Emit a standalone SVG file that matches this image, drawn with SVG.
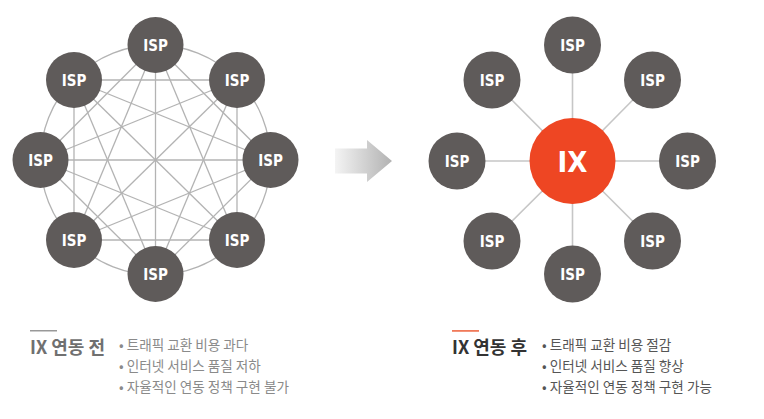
<svg xmlns="http://www.w3.org/2000/svg" width="764" height="419" viewBox="0 0 764 419">
<style>
.isp{fill:#5f5b5a}
.lbl{fill:#fff;font-family:"DejaVu Sans Condensed","DejaVu Sans","Liberation Sans",sans-serif;font-stretch:condensed;font-weight:bold;font-size:15px;text-anchor:middle}
.mesh{stroke:#b3b3b3;stroke-width:1.3;fill:none}
.spoke{stroke:#c6c6c6;stroke-width:1.6;fill:none}
.kr{font-family:"Noto Sans CJK KR","Noto Sans",sans-serif}
.bul{font-size:13.6px}
</style>
<defs>
<linearGradient id="ag" x1="0" y1="0" x2="1" y2="0">
<stop offset="0" stop-color="#f4f4f4"/>
<stop offset="1" stop-color="#b2b2b2"/>
</linearGradient>
</defs>
<rect width="764" height="419" fill="#fff"/>
<g id="connectors">
<circle class="mesh" cx="155.5" cy="160" r="115"/>
<g class="mesh">
<line x1="155.5" y1="45" x2="270.5" y2="160"/>
<line x1="155.5" y1="45" x2="237" y2="240"/>
<line x1="155.5" y1="45" x2="155.5" y2="274"/>
<line x1="155.5" y1="45" x2="74" y2="240"/>
<line x1="155.5" y1="45" x2="40.5" y2="160"/>
<line x1="237" y1="80" x2="237" y2="240"/>
<line x1="237" y1="80" x2="155.5" y2="274"/>
<line x1="237" y1="80" x2="74" y2="240"/>
<line x1="237" y1="80" x2="40.5" y2="160"/>
<line x1="237" y1="80" x2="74" y2="80"/>
<line x1="270.5" y1="160" x2="155.5" y2="274"/>
<line x1="270.5" y1="160" x2="74" y2="240"/>
<line x1="270.5" y1="160" x2="40.5" y2="160"/>
<line x1="270.5" y1="160" x2="74" y2="80"/>
<line x1="237" y1="240" x2="74" y2="240"/>
<line x1="237" y1="240" x2="40.5" y2="160"/>
<line x1="237" y1="240" x2="74" y2="80"/>
<line x1="155.5" y1="274" x2="40.5" y2="160"/>
<line x1="155.5" y1="274" x2="74" y2="80"/>
<line x1="74" y1="240" x2="74" y2="80"/>
</g>
<g class="spoke">
<line x1="572.5" y1="161" x2="572.5" y2="45"/>
<line x1="572.5" y1="161" x2="652.5" y2="80"/>
<line x1="572.5" y1="161" x2="687.5" y2="161"/>
<line x1="572.5" y1="161" x2="652.5" y2="241"/>
<line x1="572.5" y1="161" x2="572.5" y2="274"/>
<line x1="572.5" y1="161" x2="492" y2="241"/>
<line x1="572.5" y1="161" x2="457" y2="161"/>
<line x1="572.5" y1="161" x2="492" y2="80"/>
</g>
</g>
<g id="before-isp-1"><circle class="isp" cx="155.5" cy="45" r="28"/><text class="lbl" x="155.5" y="50.5">ISP</text></g>
<g id="before-isp-2"><circle class="isp" cx="237" cy="80" r="28"/><text class="lbl" x="237" y="85.5">ISP</text></g>
<g id="before-isp-3"><circle class="isp" cx="270.5" cy="160" r="28"/><text class="lbl" x="270.5" y="165.5">ISP</text></g>
<g id="before-isp-4"><circle class="isp" cx="237" cy="240" r="28"/><text class="lbl" x="237" y="245.5">ISP</text></g>
<g id="before-isp-5"><circle class="isp" cx="155.5" cy="274" r="28"/><text class="lbl" x="155.5" y="279.5">ISP</text></g>
<g id="before-isp-6"><circle class="isp" cx="74" cy="240" r="28"/><text class="lbl" x="74" y="245.5">ISP</text></g>
<g id="before-isp-7"><circle class="isp" cx="40.5" cy="160" r="28"/><text class="lbl" x="40.5" y="165.5">ISP</text></g>
<g id="before-isp-8"><circle class="isp" cx="74" cy="80" r="28"/><text class="lbl" x="74" y="85.5">ISP</text></g>
<g id="arrow"><path d="M335 148.5 H367 V140 L392 161 L367 182 V173.5 H335 Z" fill="url(#ag)"/></g>
<g id="ix"><circle cx="572.5" cy="161" r="43" fill="#ee4623"/><text x="572.5" y="172" fill="#fff" font-family="DejaVu Sans Condensed,DejaVu Sans,sans-serif" font-stretch="condensed" font-weight="bold" font-size="29" text-anchor="middle">IX</text></g>
<g id="after-isp-1"><circle class="isp" cx="572.5" cy="45" r="28.5"/><text class="lbl" x="572.5" y="50.5">ISP</text></g>
<g id="after-isp-2"><circle class="isp" cx="652.5" cy="80" r="28.5"/><text class="lbl" x="652.5" y="85.5">ISP</text></g>
<g id="after-isp-3"><circle class="isp" cx="687.5" cy="161" r="28.5"/><text class="lbl" x="687.5" y="166.5">ISP</text></g>
<g id="after-isp-4"><circle class="isp" cx="652.5" cy="241" r="28.5"/><text class="lbl" x="652.5" y="246.5">ISP</text></g>
<g id="after-isp-5"><circle class="isp" cx="572.5" cy="274" r="28.5"/><text class="lbl" x="572.5" y="279.5">ISP</text></g>
<g id="after-isp-6"><circle class="isp" cx="492" cy="241" r="28.5"/><text class="lbl" x="492" y="246.5">ISP</text></g>
<g id="after-isp-7"><circle class="isp" cx="457" cy="161" r="28.5"/><text class="lbl" x="457" y="166.5">ISP</text></g>
<g id="after-isp-8"><circle class="isp" cx="492" cy="80" r="28.5"/><text class="lbl" x="492" y="85.5">ISP</text></g>
<g id="before-text">
<rect x="30" y="330" width="27" height="1.5" fill="#999"/>
<text class="kr" x="30" y="354" font-size="18" font-weight="bold" fill="#707070">IX 연동 전</text>
<g class="kr bul" fill="#8a8a8a">
<text x="119" y="350">• 트래픽 교환 비용 과다</text>
<text x="119" y="371">• 인터넷 서비스 품질 저하</text>
<text x="119" y="392">• 자율적인 연동 정책 구현 불가</text>
</g>
</g>
<g id="after-text">
<rect x="452" y="330" width="27" height="1.8" fill="#f07a5a"/>
<text class="kr" x="452" y="354" font-size="18" font-weight="bold" fill="#333">IX 연동 후</text>
<g class="kr bul" fill="#555">
<text x="542" y="350">• 트래픽 교환 비용 절감</text>
<text x="542" y="371">• 인터넷 서비스 품질 향상</text>
<text x="542" y="392">• 자율적인 연동 정책 구현 가능</text>
</g>
</g>
</svg>
